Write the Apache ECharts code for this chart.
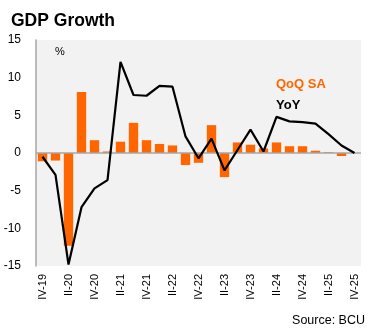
<!DOCTYPE html>
<html>
<head>
<meta charset="utf-8">
<script src="https://cdn.jsdelivr.net/npm/echarts@6/dist/echarts.min.js"></script>
<style>
html,body{margin:0;padding:0;background:#fff;}
#chart{width:375px;height:332px;}
</style>
</head>
<body>
<div id="chart"></div>
<script>
const categories = ['IV-19','I-20','II-20','III-20','IV-20','I-21','II-21','III-21','IV-21','I-22','II-22','III-22','IV-22','I-23','II-23','III-23','IV-23','I-24','II-24','III-24','IV-24','I-25','II-25','III-25','IV-25'];
const qoqSA = [-1.1,-1.0,-12.3,8.1,1.7,0.2,1.5,4.0,1.7,1.2,1.0,-1.6,-1.3,3.7,-3.2,1.4,1.1,0.6,1.4,0.9,0.9,0.3,0.1,-0.4,0.0];
const yoy = [-0.5,-2.9,-14.8,-7.2,-4.7,-3.6,12.1,7.7,7.6,8.9,8.8,2.2,-0.7,1.9,-2.3,0.4,3.1,0.2,4.8,4.2,4.1,3.9,2.5,1.0,0.0];
const yTicks = {min:-15, max:15, interval:5};

const FONT = '"Liberation Sans", Arial, sans-serif';
const chart = echarts.init(document.getElementById('chart'), null, {renderer:'canvas'});
chart.setOption({
  animation:false,
  backgroundColor:'#ffffff',
  title:{
    text:'GDP Growth', left:6, top:7,
    textStyle:{fontFamily:FONT, fontSize:17.5, fontWeight:'bold', color:'#000'}
  },
  legend:{
    orient:'vertical', left:266, top:73, itemGap:8,
    itemWidth:0, itemHeight:0, icon:'rect', selectedMode:false,
    textStyle:{fontFamily:FONT, fontSize:13, fontWeight:'bold'},
    data:[
      {name:'QoQ SA', textStyle:{color:'#FF6600'}},
      {name:'YoY', textStyle:{color:'#000000'}}
    ]
  },
  graphic:[
    {type:'text', left:55, top:46, style:{text:'%', fontFamily:FONT, fontSize:11, fill:'#000'}},
    {type:'text', right:10, top:314, style:{text:'Source: BCU', fontFamily:FONT, fontSize:12.5, fill:'#000'}}
  ],
  grid:{left:36, right:14, top:40, bottom:66, show:true, backgroundColor:'#F2F2F2', borderWidth:0},
  xAxis:{
    type:'category', data:categories, boundaryGap:true,
    axisLine:{show:false, onZero:false}, axisTick:{show:false},
    axisLabel:{interval:1, rotate:90, margin:8, fontFamily:FONT, fontSize:11, color:'#000'},
    splitLine:{show:false}
  },
  yAxis:{
    type:'value', min:yTicks.min, max:yTicks.max, interval:yTicks.interval,
    axisLine:{show:true, lineStyle:{color:'#A6A6A6', width:1.5}},
    axisTick:{show:false},
    splitLine:{show:false},
    axisLabel:{margin:15, fontFamily:FONT, fontSize:12, color:'#000'}
  },
  series:[
    {
      name:'QoQ SA', type:'bar', data:qoqSA, barWidth:'72%',
      itemStyle:{color:'#FF6600'},
      markLine:{
        silent:true, symbol:['none','none'], label:{show:false},
        lineStyle:{color:'#A6A6A6', width:1.5, type:'solid'},
        data:[{yAxis:0}]
      }
    },
    {
      name:'YoY', type:'line', data:yoy, symbol:'none', z:5,
      lineStyle:{color:'#000', width:2.2}, itemStyle:{color:'#000'}
    }
  ]
});
</script>
</body>
</html>
